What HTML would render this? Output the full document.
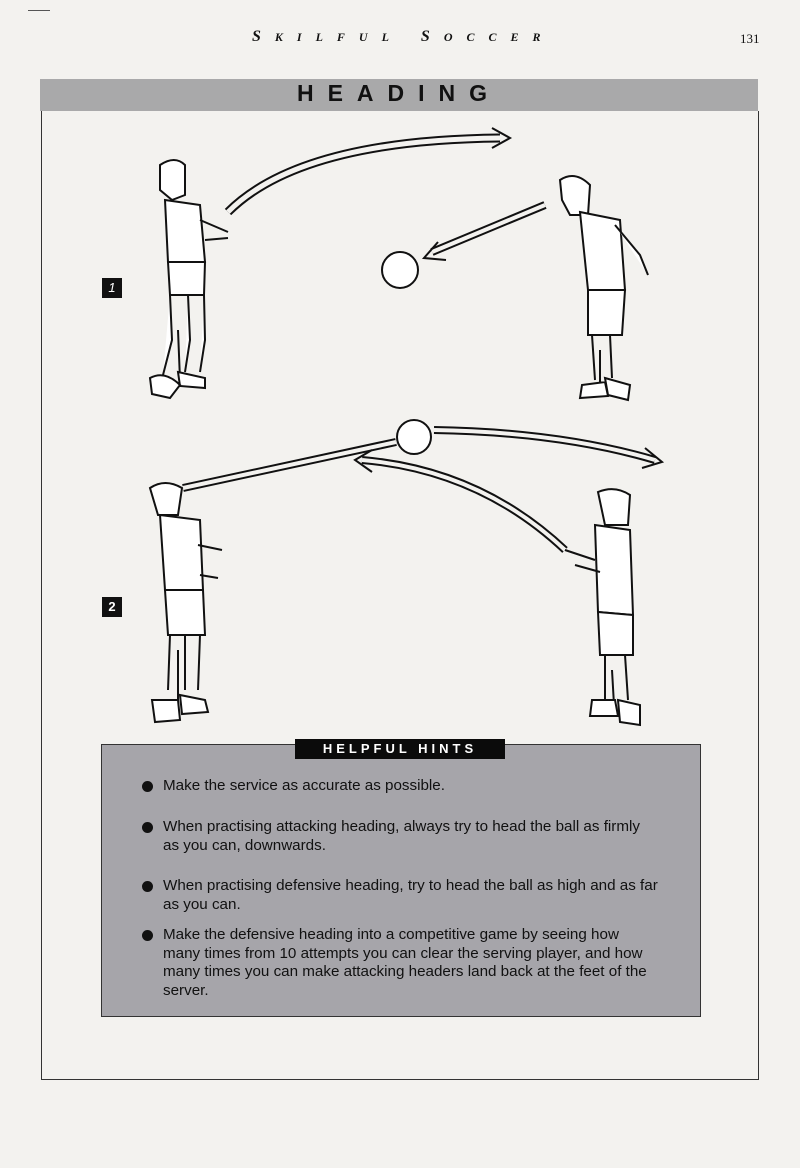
<!DOCTYPE html>
<html><head><style>
body{margin:0;width:800px;height:1168px;background:#f3f2ef;font-family:"Liberation Sans",sans-serif;position:relative;overflow:hidden}
.a{position:absolute}
.hint{position:absolute;left:163px;font-size:15.2px;color:#111;line-height:18.5px;white-space:nowrap}
.dot{position:absolute;left:-21px;top:4px;width:11px;height:11px;border-radius:50%;background:#111}
</style></head><body>
<div class="a" style="left:28px;top:10px;width:22px;border-top:1px solid #555"></div>
<div class="a" style="left:252px;top:28px;font-family:'Liberation Serif',serif;font-style:italic;font-weight:bold;font-size:16px;letter-spacing:14px;color:#111">S<span style="font-size:12px">KILFUL</span> S<span style="font-size:12px">OCCER</span></div>
<div class="a" style="left:740px;top:31px;font-family:'Liberation Serif',serif;font-size:13px;color:#111">131</div>
<div class="a" style="left:40px;top:79px;width:718px;height:32px;background:#a9a9aa"></div>
<div class="a" style="left:40px;top:80px;width:718px;text-align:center;font-size:23px;font-weight:bold;letter-spacing:14px;color:#111">HEADING</div>
<div class="a" style="left:41px;top:111px;width:716px;height:968px;border:1px solid #333;border-top:none"></div>
<div class="a" style="left:102px;top:278px;width:20px;height:20px;background:#111;color:#fff;font-size:13px;font-style:italic;text-align:center;line-height:20px">1</div>
<div class="a" style="left:102px;top:597px;width:20px;height:20px;background:#111;color:#fff;font-size:13px;font-weight:bold;text-align:center;line-height:20px">2</div>
<svg class="a" style="left:0;top:0" width="800" height="1168" fill="none" stroke="#111" stroke-width="2">
<path d="M228 212 Q300 140 500 138" stroke-width="9"/><path d="M228 212 Q300 140 500 138" stroke="#f3f2ef" stroke-width="5"/>
<path d="M492 128 L510 138 L492 148" />
<path d="M545 205 L432 252" stroke-width="8"/><path d="M545 205 L432 252" stroke="#f3f2ef" stroke-width="4"/>
<path d="M438 242 L424 258 L446 260"/>
<circle cx="400" cy="270" r="18" fill="#fff"/>
<circle cx="414" cy="437" r="17" fill="#fff"/>
<path d="M183 488 L396 442" stroke-width="8"/><path d="M183 488 L396 442" stroke="#f3f2ef" stroke-width="4"/>
<path d="M434 430 Q560 432 655 460" stroke-width="8"/><path d="M434 430 Q560 432 655 460" stroke="#f3f2ef" stroke-width="4"/>
<path d="M645 448 L662 462 L642 468"/>
<path d="M565 550 Q480 470 362 460" stroke-width="8"/><path d="M565 550 Q480 470 362 460" stroke="#f3f2ef" stroke-width="4"/>
<path d="M372 450 L355 460 L372 472"/>
<g stroke-width="2" fill="#fff">
<path d="M160 165 Q175 155 185 165 L185 195 L172 200 L160 190 Z"/>
<path d="M165 200 L200 205 L205 262 L168 262 Z"/>
<path d="M200 220 L228 232 M205 240 L228 238"/>
<path d="M168 262 L205 262 L204 295 L170 295 Z"/>
<path d="M170 295 L172 340 L163 375 M188 295 L190 340 L185 372 M204 295 L205 340 L200 372 M178 330 L180 380"/>
<path d="M150 378 Q165 370 180 385 L170 398 L152 394 Z M178 372 L205 378 L205 388 L180 386 Z"/>
</g>
<g stroke-width="2" fill="#fff">
<path d="M560 180 Q575 170 590 185 L588 215 L570 215 L562 200 Z"/>
<path d="M580 212 L620 220 L625 290 L588 290 Z"/>
<path d="M615 225 L640 255 L648 275"/>
<path d="M588 290 L625 290 L622 335 L588 335 Z"/>
<path d="M592 335 L595 380 M610 335 L612 378 M600 350 L600 385"/>
<path d="M582 385 L605 382 L608 396 L580 398 Z M605 378 L630 385 L628 400 L608 395 Z"/>
</g>
<g stroke-width="2" fill="#fff">
<path d="M150 488 Q165 478 182 488 L178 515 L158 515 Z"/>
<path d="M160 515 L200 520 L203 590 L165 590 Z"/>
<path d="M198 545 L222 550 M200 575 L218 578"/>
<path d="M165 590 L203 590 L205 635 L168 635 Z"/>
<path d="M170 635 L168 690 M185 635 L185 690 M200 635 L198 690 M178 650 L178 700"/>
<path d="M152 700 L178 700 L180 720 L155 722 Z M180 695 L205 700 L208 712 L182 714 Z"/>
</g>
<g stroke-width="2" fill="#fff">
<path d="M598 492 Q615 485 630 495 L628 525 L605 525 Z"/>
<path d="M595 525 L630 530 L633 615 L598 612 Z"/>
<path d="M565 550 L595 560 M575 565 L600 572"/>
<path d="M598 612 L633 615 L633 655 L600 655 Z"/>
<path d="M605 655 L605 700 M625 655 L628 700 M612 670 L614 705"/>
<path d="M592 700 L615 700 L618 716 L590 716 Z M618 700 L640 705 L640 725 L620 722 Z"/>
</g>
</svg>
<div class="a" style="left:101px;top:744px;width:598px;height:271px;background:#a6a5aa;border:1px solid #333"></div>
<div class="a" style="left:295px;top:739px;width:210px;height:20px;background:#0b0b0b;color:#fff;font-weight:bold;font-size:13px;letter-spacing:4px;text-align:center;line-height:20px">HELPFUL HINTS</div>
<div class="hint" style="top:777px"><span class="dot"></span>Make the service as accurate as possible.</div>
<div class="hint" style="top:818px"><span class="dot"></span>When practising attacking heading, always try to head the ball as firmly<br>as you can, downwards.</div>
<div class="hint" style="top:877px"><span class="dot"></span>When practising defensive heading, try to head the ball as high and as far<br>as you can.</div>
<div class="hint" style="top:926px"><span class="dot"></span>Make the defensive heading into a competitive game by seeing how<br>many times from 10 attempts you can clear the serving player, and how<br>many times you can make attacking headers land back at the feet of the<br>server.</div>
</body></html>
